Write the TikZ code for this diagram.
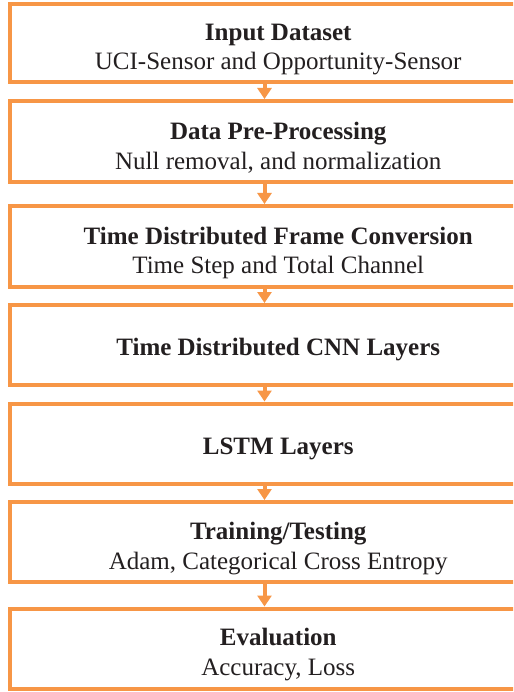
\documentclass[tikz,border=0pt]{standalone}
\usepackage{fontspec}
\setmainfont{Liberation Serif}
\usetikzlibrary{arrows.meta}
\definecolor{boxorange}{RGB}{247,150,70}
\definecolor{txt}{RGB}{35,31,32}
\tikzset{
  stagebox/.style={draw=boxorange, line width=4pt, rectangle, minimum width=537.5pt, inner sep=0pt},
  stagetext/.style={inner sep=0pt, align=center, text=txt, font=\fontsize{25}{29.5}\selectfont},
  flowarrow/.style={draw=boxorange, line width=4pt, -{Triangle[width=14pt,length=11pt]}}
}
\begin{document}
\begin{tikzpicture}[x=1pt,y=1pt]
\useasboundingbox (0,0) rectangle (513,-692);
\clip (0,0) rectangle (513,-692);
\fill[white] (0,0) rectangle (513,-692);
\node[stagebox, minimum height=78.5pt] (b1) at (278.25,-43.25) {};
\node[stagebox, minimum height=81pt] (b2) at (278.25,-141.5) {};
\node[stagebox, minimum height=81pt] (b3) at (278.25,-246.5) {};
\node[stagebox, minimum height=80pt] (b4) at (278.25,-345) {};
\node[stagebox, minimum height=80pt] (b5) at (278.25,-443.5) {};
\node[stagebox, minimum height=80pt] (b6) at (278.25,-542) {};
\node[stagebox, minimum height=80.5pt] (b7) at (278.25,-648.75) {};
\node[stagetext] (t1) at ([yshift=-6.5pt]b1.center) {\textbf{Input Dataset}\\UCI-Sensor and Opportunity-Sensor};
\node[stagetext] (t2) at ([yshift=-6.5pt]b2.center) {\textbf{Data Pre-Processing}\\Null removal, and normalization};
\node[stagetext] (t3) at ([yshift=-6.5pt]b3.center) {\textbf{Time Distributed Frame Conversion}\\Time Step and Total Channel};
\node[stagetext] (t4) at ([yshift=-5pt]b4.center) {\textbf{Time Distributed CNN Layers}};
\node[stagetext] (t5) at ([yshift=-5pt]b5.center) {\textbf{LSTM Layers}};
\node[stagetext] (t6) at ([yshift=-6.5pt]b6.center) {\textbf{Training/Testing}\\Adam, Categorical Cross Entropy};
\node[stagetext] (t7) at ([yshift=-6pt]b7.center) {\textbf{Evaluation}\\Accuracy, Loss};
\foreach \a/\b in {b1/b2,b2/b3,b3/b4,b4/b5,b5/b6,b6/b7}{
  \draw[flowarrow] ([xshift=-13.75pt]\a.south) -- ([xshift=-13.75pt]\b.north);
}
\end{tikzpicture}
\end{document}
